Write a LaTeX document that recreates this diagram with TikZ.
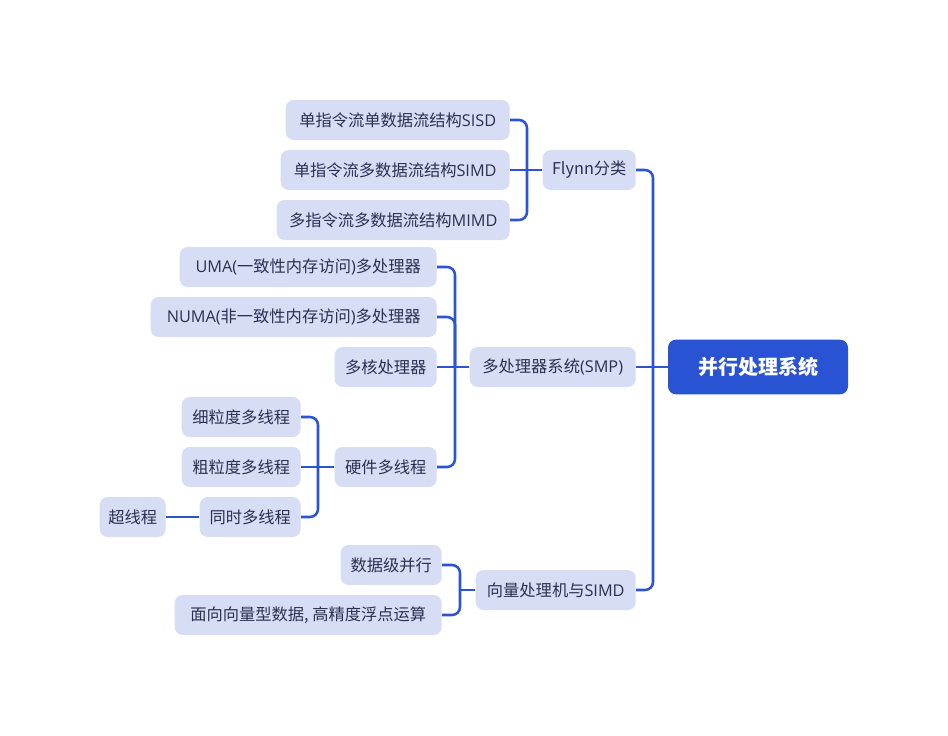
\documentclass[tikz,border=0pt]{standalone}
\usepackage{fontspec}
\setmainfont{Noto Sans CJK SC}
\newfontfamily\cjk{Noto Sans CJK SC}
\newfontfamily\lat{Open Sans}
\newcommand{\La}[1]{{\lat #1}}
\definecolor{linec}{RGB}{42,84,212}
\definecolor{boxc}{RGB}{214,221,245}
\definecolor{txtc}{RGB}{44,48,80}
\definecolor{rootc}{RGB}{41,83,211}
\begin{document}
\begin{tikzpicture}[x=0.75pt,y=-0.75pt,
  leaf/.style={fill=boxc, rounded corners=6pt, minimum height=30pt, inner xsep=6pt, inner ysep=0pt, text=txtc, font=\cjk\fontsize{12.2}{14}\selectfont, anchor=east},
  bw/.style={minimum width=#1*0.75pt},
  rootbox/.style={fill=rootc, rounded corners=6pt, minimum width=135pt, minimum height=41pt, text=white, font=\cjk\fontsize{15}{18}\selectfont\bfseries},
  conn/.style={draw=linec, line width=1.9pt, rounded corners=6pt},
  stub/.style={draw=linec, line width=1.9pt}]
\path[use as bounding box] (0,0) rectangle (948,735);

\node[rootbox] (root) at (758,367) {并行处理系统};

\node[leaf,bw=93] (flynn) at (636,170) {Flynn分类};
\node[leaf,bw=166] (smp) at (636,367) {多处理器系统\La{(SMP)}};
\node[leaf,bw=160] (vec) at (636,590) {向量处理机与\La{SIMD}};

\node[leaf,bw=224] (sisd) at (510,120) {单指令流单数据流结构\La{SISD}};
\node[leaf,bw=229] (simd) at (510,170) {单指令流多数据流结构\La{SIMD}};
\node[leaf,bw=233] (mimd) at (510,220) {多指令流多数据流结构\La{MIMD}};

\node[leaf,bw=257] (uma) at (437,267) {\La{UMA(}一致性内存访问\La{)}多处理器};
\node[leaf,bw=286] (numa) at (437,317) {\La{NUMA(}非一致性内存访问\La{)}多处理器};
\node[leaf,bw=102] (multicore) at (437,367) {多核处理器};
\node[leaf,bw=102] (hwmt) at (437,467) {硬件多线程};

\node[leaf,bw=119] (fine) at (301,417) {细粒度多线程};
\node[leaf,bw=119] (coarse) at (301,467) {粗粒度多线程};
\node[leaf,bw=101] (smt) at (301,517) {同时多线程};
\node[leaf,bw=66] (ht) at (166,517) {超线程};

\node[leaf,bw=101] (dlp) at (442,565) {数据级并行};
\node[leaf,bw=267] (vecdata) at (442,615) {面向向量型数据, 高精度浮点运算};

\coordinate (b0) at (653,0);
\coordinate (b1) at (527,0);
\coordinate (b2) at (455,0);
\coordinate (b3) at (318,0);
\coordinate (b4) at (460,0);

% root
\draw[stub] (root.west) -- (smp.east);
\foreach \c in {flynn,vec}
  \draw[conn] (root.west -| b0) |- (\c.east);
% Flynn
\draw[stub] (flynn.west) -- (simd.east);
\foreach \c in {sisd,mimd}
  \draw[conn] (flynn.west -| b1) |- (\c.east);
% SMP
\draw[stub] (smp.west) -- (multicore.east);
\foreach \c in {uma,numa,hwmt}
  \draw[conn] (smp.west -| b2) |- (\c.east);
% hardware multithreading
\draw[stub] (hwmt.west) -- (coarse.east);
\foreach \c in {fine,smt}
  \draw[conn] (hwmt.west -| b3) |- (\c.east);
% vector
\draw[stub] (vec.west) -- (vec.west -| b4);
\foreach \c in {dlp,vecdata}
  \draw[conn] (vec.west -| b4) |- (\c.east);
\draw[stub] (smt.west) -- (ht.east);
\end{tikzpicture}
\end{document}
